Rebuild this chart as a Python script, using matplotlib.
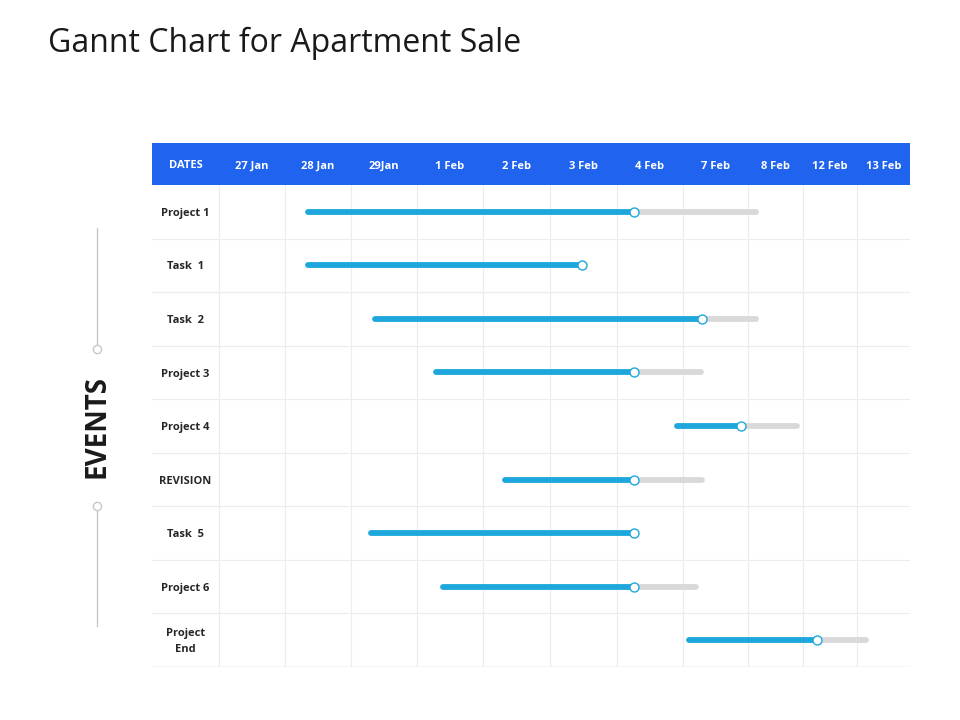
import numpy as np
import matplotlib
matplotlib.use("Agg")
from matplotlib import pyplot as plt

plt.rcParams["font.family"] = ["Open Sans", "DejaVu Sans"]

# ---- data ----
dates = ["27 Jan", "28 Jan", "29Jan", "1 Feb", "2 Feb", "3 Feb",
         "4 Feb", "7 Feb", "8 Feb", "12 Feb", "13 Feb"]
events = ["Project 1", "Task  1", "Task  2", "Project 3", "Project 4",
          "REVISION", "Task  5", "Project 6", "Project\nEnd"]
# positions in date-column units (0 = start of "27 Jan" column)
start = [1.35, 1.35, 2.36, 3.29, 6.91, 4.33, 2.30, 3.39, 7.09]
progress = [6.26, 5.48, 7.29, 6.26, 7.89, 6.26, 6.26, 6.26, 9.26]
finish = [8.15, 5.48, 8.15, 7.28, 8.89, 7.29, 6.26, 7.20, 10.17]

# column widths in pixels (label column first), narrower at right
col_w = [67, 66, 66, 66, 66, 67, 67, 66, 65, 55, 54, 53]
edges_idx = np.arange(-1, len(dates) + 1)
edges_px = np.concatenate([[0], np.cumsum(col_w)])

BLUE_HEAD = "#1f63ee"
BAR = "#1ea7dc"
TRACK = "#d9d9d9"
GRID = "#ececec"

W, H = 960, 720
fig = plt.figure(figsize=(W / 100, H / 100), dpi=100)


def fwd(x):
    return np.interp(x, edges_idx, edges_px)


def inv(p):
    return np.interp(p, edges_px, edges_idx)


left, right = 152, 910
head_top, head_bot, body_bot = 143, 185, 667

ax_h = fig.add_axes([left / W, 1 - head_bot / H, (right - left) / W,
                     (head_bot - head_top) / H])
ax = fig.add_axes([left / W, 1 - body_bot / H, (right - left) / W,
                   (body_bot - head_bot) / H])

for a in (ax_h, ax):
    a.set_xscale("function", functions=(fwd, inv))
    a.set_xlim(-1, len(dates))
    a.axis("off")

# header
ax_h.set_ylim(0, 1)
ax_h.axvspan(-1, len(dates), color=BLUE_HEAD, lw=0)
ax_h.text(-0.5, 0.47, "DATES", color="white", fontsize=8, weight="bold",
          ha="center", va="center")
for i, d in enumerate(dates):
    ax_h.text(i + 0.5, 0.45, d, color="white", fontsize=8, weight="bold",
              ha="center", va="center")

# body grid
n = len(events)
ax.set_ylim(n - 0.5, -0.5)
for x in edges_idx[1:-1]:
    ax.plot([x, x], [-0.5, n - 0.5], color=GRID, lw=0.8, zorder=0)
for y in np.arange(0.5, n - 0.5):
    ax.plot([-1, len(dates)], [y, y], color=GRID, lw=0.8, zorder=0)
ax.plot([-1, len(dates)], [n - 0.5, n - 0.5], color="#cfcfcf", lw=1, zorder=0)

# bars
for i, ev in enumerate(events):
    ax.text(-0.5, i + 0.03, ev, fontsize=8, weight="bold", color="#262626",
            ha="center", va="center", linespacing=1.6)
    if finish[i] > progress[i]:
        ax.plot([progress[i], finish[i]], [i, i], color=TRACK, lw=4.2,
                solid_capstyle="round", zorder=2)
    ax.plot([start[i], progress[i]], [i, i], color=BAR, lw=4.2,
            solid_capstyle="round", zorder=3)
    ax.plot(progress[i], i, "o", ms=6.5, mfc="white", mec=BAR, mew=1,
            zorder=4)

# title
fig.text(48 / W, 1 - 43 / H, "Gannt Chart for Apartment Sale", fontsize=23,
         color="#1a1a1a", ha="left", va="center")

# side "EVENTS" decoration
ax_s = fig.add_axes([0, 0, 1, 1])
ax_s.set_xlim(0, W)
ax_s.set_ylim(H, 0)
ax_s.axis("off")
ax_s.plot([97, 97], [228, 344], color="#c8c8c8", lw=1)
ax_s.plot([97, 97], [511, 626], color="#c8c8c8", lw=1)
ax_s.plot([97, 97], [349, 506], "o", ms=6, mfc="white", mec="#c8c8c8", mew=1)
ax_s.text(97, 427, "EVENTS", rotation=90, fontsize=20, weight="bold",
          color="#1a1a1a", ha="center", va="center")

fig.savefig("out.png", dpi=100)
